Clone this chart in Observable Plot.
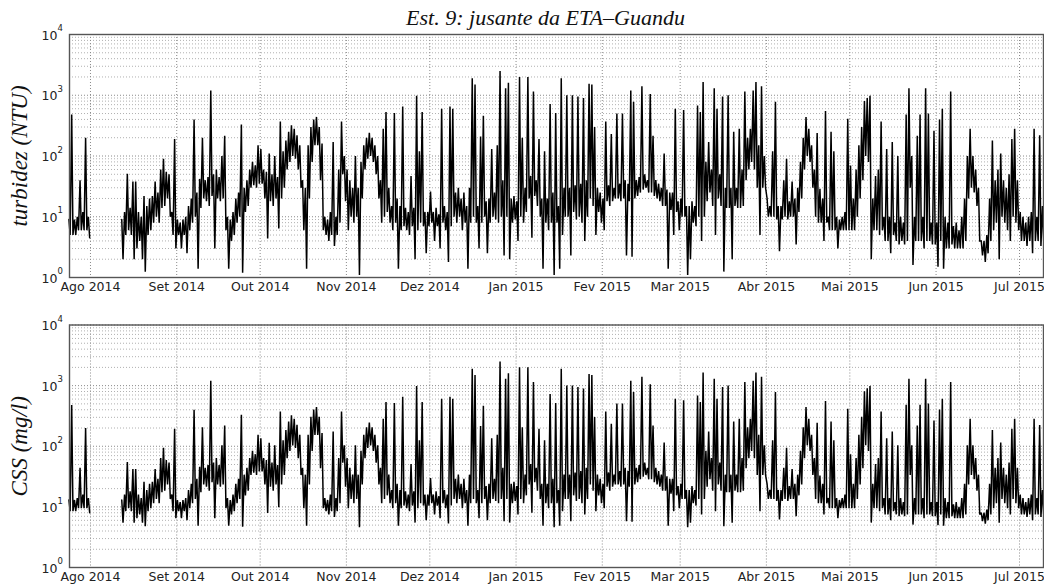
<!DOCTYPE html>
<html><head><meta charset="utf-8">
<script src="https://cdn.jsdelivr.net/npm/d3@7"></script>
<script src="https://cdn.jsdelivr.net/npm/@observablehq/plot@0.6"></script>
<style>
body{margin:0;background:#fff;}
#chart{width:1044px;height:587px;position:relative;overflow:hidden;}
#chart svg{display:block;}
</style></head><body><div id="chart"></div>
<script>
// daily values, day 0 = 2014-07-24; null = no data
const turbHi = [
9,480,9,10,40,12,200,10,
null,null,null,null,null,null,null,null,null,null,null,
9,12,51,14,38,38,12,10,22,15,
20,22,38,25,60,90,55,50,12,190,
9,8,9,10,15,20,400,25,42,200,
40,45,1200,50,60,45,100,215,10,9,
12,20,25,330,30,40,60,80,70,150,
130,60,55,110,50,100,45,370,120,180,
250,320,280,220,150,40,30,150,300,400,
440,300,160,10,9,12,170,10,60,370,
100,60,40,30,100,30,80,150,200,240,
200,150,100,40,280,530,30,15,510,20,
15,650,14,12,47,14,980,120,530,12,
12,26,12,14,11,600,15,12,650,600,
25,30,20,25,15,30,1900,1500,15,210,
460,18,20,130,25,150,2500,40,1300,1600,
20,22,18,2000,200,30,2000,47,1150,40,
190,20,120,20,720,25,510,15,1900,30,
1000,30,1000,33,950,35,900,40,1550,1500,
300,30,25,20,370,33,230,30,500,35,
500,40,35,1200,780,40,45,1400,50,40,
1050,215,40,35,30,110,28,25,25,600,
18,20,570,15,15,18,15,680,530,1650,
80,170,60,1300,600,50,950,30,1000,30,
250,30,280,60,1150,200,280,1200,1650,150,
1400,100,20,15,120,780,15,15,40,90,
18,38,20,30,80,200,440,280,150,60,
240,29,20,550,10,250,120,10,9,10,
12,410,70,20,60,150,300,800,900,980,
20,47,60,370,10,130,10,170,8,100,
10,8,480,1300,100,10,215,480,10,1300,
500,8,260,8,400,600,10,8,1150,7,
8,6,10,20,100,280,100,60,30,4,
4,5,20,180,40,60,110,40,30,50,
190,280,40,12,10,8,10,12,280,10,220,15,30
];
const turbLo = [
5,5,5,6,6,6,6,4.5,
null,null,null,null,null,null,null,null,null,null,null,
2,5,6,5,2,3,4,2,1.25,5,
6,8,10,8,14,15,20,10,5,3,
5,3,5,2.5,6,8,10,1.4,14,20,
18,15,22,3,20,18,20,6,1.4,4,
5,8,10,1.2,12,15,30,33,30,35,
35,20,4.4,18,15,20,6.4,20,30,60,
80,100,90,60,30,6,1.4,20,80,150,
150,40,6,5,4,5,3.3,5,8,50,
18,6,10,8,10,1.1,20,60,90,100,
80,50,20,8,10,12,8,6,8,1.4,
6,7,6,5,7,2,6,8,7,2.5,
7,8,4,7,3,8,6,1.8,7,10,
8,10,6,8,1.4,8,10,8,3,8,
10,2.5,8,10,9,8,10,2.3,10,2,
8,9,4,10,8,12,20,4.5,22,15,
10,1.4,8,6,8,1.1,8,1.4,5,10,
10,2.3,12,9,10,8,4,10,20,15,
5,12,8,6,18,15,18,20,20,18,
20,2.3,18,2.2,20,22,25,28,30,25,
25,22,20,18,15,15,1.4,13,5,12,
6,10,10,1.1,2,8,7,10,4,10,
18,25,15,5,20,15,1.25,14,14,2,
15,14,14,15,40,60,80,60,30,5,
30,30,10,10,10,9,2.7,9,10,9,
10,10,3.5,12,20,60,100,80,30,10,
8,8,4,8,6,6,6,3,6,6,
6,6,6,6,10,20,40,100,80,2,
6,6,5,6,4,4,2.5,5,4,3.5,
4,3.5,4,30,1.6,4,4,4,3,4,
4,3.5,3.5,1.5,4,1.4,3,3,3.5,3,
3,3,3,4,20,30,25,15,4,2.3,
1.8,2.5,4,6,8,2,10,8,6,4,
10,8,6,4,4,3.3,4,2.5,4,4,3.3,4,6
];
const cssHi = [
13,480,13,14,44,16,200,14,
null,null,null,null,null,null,null,null,null,null,null,
13,16,55,18,42,42,16,14,26,19,
24,26,42,29,64,94,59,54,16,195,
13,12,13,14,19,24,400,29,46,205,
44,49,1200,54,64,49,104,220,14,13,
16,24,29,330,34,44,64,84,74,155,
135,64,59,114,54,104,49,375,125,185,
255,325,285,225,155,44,34,155,305,405,
445,305,165,14,13,16,175,14,64,375,
104,64,44,34,104,34,84,155,205,245,
205,155,104,44,285,535,34,19,515,24,
19,655,18,16,51,18,985,125,535,16,
16,30,16,18,15,605,19,16,655,605,
29,34,24,29,19,34,1900,1500,19,215,
465,22,24,135,29,155,2500,44,1300,1600,
24,26,22,2000,205,34,2000,51,1150,44,
195,24,125,24,725,29,515,19,1900,34,
1000,34,1000,37,950,39,900,44,1550,1500,
305,34,29,24,375,37,235,34,505,39,
505,44,39,1200,785,44,49,1400,54,44,
1050,220,44,39,34,115,32,29,29,605,
22,24,575,19,19,22,19,685,535,1650,
84,175,64,1300,605,54,950,34,1000,34,
255,34,285,64,1150,205,285,1200,1650,155,
1400,104,24,19,125,785,19,19,44,94,
22,42,24,34,84,205,445,285,155,64,
245,33,24,555,14,255,125,14,13,14,
16,415,74,24,64,155,305,805,905,985,
24,51,64,375,14,135,14,175,12,104,
14,12,485,1300,104,14,220,485,14,1300,
505,12,265,12,405,605,14,12,1150,11,
12,10,14,24,104,285,104,64,34,8,
8,9,24,185,44,64,115,44,34,54,
195,285,44,16,14,12,14,16,285,14,225,19,34
];
const cssLo = [
8.5,8.5,8.5,9.5,9.5,9.5,9.5,8,
null,null,null,null,null,null,null,null,null,null,null,
5.5,8.5,9.5,8.5,5.5,6.5,7.5,5.5,4.8,8.5,
9.5,11.5,13.5,11.5,17.5,18.5,23.5,13.5,8.5,6.5,
8.5,6.5,8.5,6,9.5,11.5,13.5,4.9,17.5,23.5,
21.5,18.5,25.5,6.5,23.5,21.5,23.5,9.5,4.9,7.5,
8.5,11.5,13.5,4.7,15.5,18.5,33.5,36.5,33.5,38.5,
38.5,23.5,7.9,21.5,18.5,23.5,9.9,23.5,33.5,63.5,
83.5,103.5,93.5,63.5,33.5,9.5,4.9,23.5,83.5,153.5,
153.5,43.5,9.5,8.5,7.5,8.5,6.8,8.5,11.5,53.5,
21.5,9.5,13.5,11.5,13.5,4.6,23.5,63.5,93.5,103.5,
83.5,53.5,23.5,11.5,13.5,15.5,11.5,9.5,11.5,4.9,
9.5,10.5,9.5,8.5,10.5,5.5,9.5,11.5,10.5,6,
10.5,11.5,7.5,10.5,6.5,11.5,9.5,5.3,10.5,13.5,
11.5,13.5,9.5,11.5,4.9,11.5,13.5,11.5,6.5,11.5,
13.5,6,11.5,13.5,12.5,11.5,13.5,5.8,13.5,5.5,
11.5,12.5,7.5,13.5,11.5,15.5,23.5,8,25.5,18.5,
13.5,4.9,11.5,9.5,11.5,4.6,11.5,4.9,8.5,13.5,
13.5,5.8,15.5,12.5,13.5,11.5,7.5,13.5,23.5,18.5,
8.5,15.5,11.5,9.5,21.5,18.5,21.5,23.5,23.5,21.5,
23.5,5.8,21.5,5.7,23.5,25.5,28.5,31.5,33.5,28.5,
28.5,25.5,23.5,21.5,18.5,18.5,4.9,16.5,8.5,15.5,
9.5,13.5,13.5,4.6,5.5,11.5,10.5,13.5,7.5,13.5,
21.5,28.5,18.5,8.5,23.5,18.5,4.8,17.5,17.5,5.5,
18.5,17.5,17.5,18.5,43.5,63.5,83.5,63.5,33.5,8.5,
33.5,33.5,13.5,13.5,13.5,12.5,6.2,12.5,13.5,12.5,
13.5,13.5,7,15.5,23.5,63.5,103.5,83.5,33.5,13.5,
11.5,11.5,7.5,11.5,9.5,9.5,9.5,6.5,9.5,9.5,
9.5,9.5,9.5,9.5,13.5,23.5,43.5,103.5,83.5,5.5,
9.5,9.5,8.5,9.5,7.5,7.5,6,8.5,7.5,7,
7.5,7,7.5,33.5,5.1,7.5,7.5,7.5,6.5,7.5,
7.5,7,7,5,7.5,4.9,6.5,6.5,7,6.5,
6.5,6.5,6.5,7.5,23.5,33.5,28.5,18.5,7.5,5.8,
5.3,6,7.5,9.5,11.5,5.5,13.5,11.5,9.5,7.5,
13.5,11.5,9.5,7.5,7.5,6.8,7.5,6,7.5,7.5,6.8,7.5,9.5
];
const monthTicks = ["2014-08-01","2014-09-01","2014-10-01","2014-11-01","2014-12-01","2015-01-01","2015-02-01","2015-03-01","2015-04-01","2015-05-01","2015-06-01","2015-07-01"];
const monthLabels = ["Ago 2014","Set 2014","Out 2014","Nov 2014","Dez 2014","Jan 2015","Fev 2015","Mar 2015","Abr 2015","Mai 2015","Jun 2015","Jul 2015"];
const decades = [1,10,100,1000,10000];
const expLabels = ["0","1","2","3","4"];
const minorSteps = [2,3,4,5,6,7,8,9];
const titleText = "Est. 9: jusante da ETA\u2013Guandu";
const yLabels = ["turbidez (NTU)","CSS (mg/l)"];

const t0 = Date.UTC(2014,6,24);
function rows(hi, lo){
  const out=[];
  for(let i=0;i<hi.length;i++){
    out.push({t:new Date(t0+(i+0.25)*864e5), v:hi[i]});
    out.push({t:new Date(t0+(i+0.7)*864e5), v:lo[i]});
  }
  return out;
}
const monthDates = monthTicks.map(s=>new Date(s+"T00:00:00Z"));
const minor = decades.slice(0,-1).flatMap(d=>minorSteps.map(k=>d*k));
const xDomain = [new Date(Date.UTC(2014,6,24,11)), new Date(Date.UTC(2015,6,9,15))];

function panel(hi, lo, label, h, mt, mb, title){
  const marks = [
    Plot.ruleY(minor, {stroke:"#b0b0b0", strokeDasharray:"1,2", strokeWidth:1}),
    Plot.ruleY(decades, {stroke:"#8a8a8a", strokeDasharray:"1,2", strokeWidth:1}),
    Plot.ruleX(monthDates, {stroke:"#8a8a8a", strokeDasharray:"1,2", strokeWidth:1}),
    Plot.line(rows(hi, lo), {x:"t", y:"v", stroke:"#000", strokeWidth:1.5, strokeLinejoin:"miter", strokeMiterlimit:2}),
    Plot.frame({stroke:"#555", strokeWidth:1.4}),
    Plot.text(monthLabels, {x:(d,i)=>monthDates[i], frameAnchor:"bottom", lineAnchor:"top", dy:5, fontSize:12.5, fill:"#222", fontFamily:"DejaVu Sans"}),
    Plot.text(decades, {y:d=>d, text:()=>"10", frameAnchor:"left", textAnchor:"end", lineAnchor:"middle", dx:-12, dy:1, fontSize:12.5, fill:"#222", fontFamily:"DejaVu Sans"}),
    Plot.text(decades, {y:d=>d, text:(d,i)=>expLabels[i], frameAnchor:"left", textAnchor:"start", lineAnchor:"middle", dx:-12, dy:-6, fontSize:8.5, fill:"#222", fontFamily:"DejaVu Sans"}),
    Plot.text([label], {frameAnchor:"left", rotate:-90, dx:-50, textAnchor:"middle", lineAnchor:"middle", fontSize:23, fontStyle:"italic", fontFamily:"Liberation Serif", fill:"#111"})
  ];
  if(title) marks.push(Plot.text([title], {frameAnchor:"top", dx:-11, dy:-17, lineAnchor:"middle", fontSize:22, fontStyle:"italic", fontFamily:"Liberation Serif", fill:"#111"}));
  return Plot.plot({
    width:1044, height:h, marginLeft:69, marginRight:1, marginTop:mt, marginBottom:mb,
    style:{background:"#fff", overflow:"visible"},
    x:{type:"utc", domain:xDomain, axis:null},
    y:{type:"log", domain:[1,10000], axis:null},
    marks
  });
}
const el = document.getElementById("chart");
el.appendChild(panel(turbHi, turbLo, yLabels[0], 294, 34, 17, titleText));
el.appendChild(panel(cssHi, cssLo, yLabels[1], 293, 30.5, 20, null));
</script></body></html>
